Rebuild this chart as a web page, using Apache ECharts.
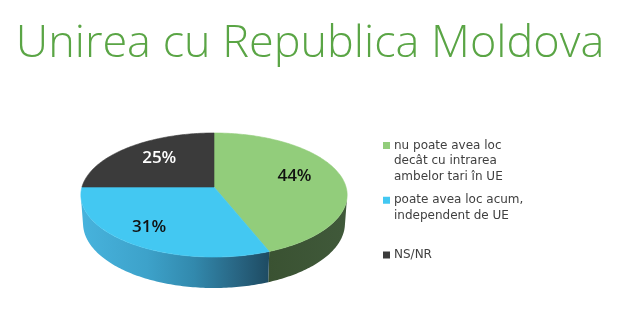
<!DOCTYPE html>
<html>
<head>
<meta charset="utf-8">
<script src="https://cdn.jsdelivr.net/npm/echarts@6/dist/echarts.min.js"></script>
<style>
  html, body { margin: 0; padding: 0; background: #ffffff; }
  #chart { width: 620px; height: 324px; }
</style>
</head>
<body>
<div id="chart"></div>
<script>
// ---- data ----
const titleText = 'Unirea cu Republica Moldova';
const categories = [
  'nu poate avea loc\ndecât cu intrarea\nambelor tari în UE',
  'poate avea loc acum,\nindependent de UE',
  'NS/NR'
];
const shares = [44, 31, 25];

// ---- styling ----
const topColors = ['#92CD7B', '#43C8F2', '#3B3B3B'];
const wallStops = [
  [[0, '#3A5232'], [1, '#40593A']],
  [[0, '#47B3DD'], [0.35, '#3DA2CA'], [0.6, '#3289AD'], [0.85, '#27627F'], [1, '#1E4B62']],
  [[0, '#2A2A2A'], [1, '#2A2A2A']]
];
const labelColors = ['#111111', '#111111', '#ffffff'];
const labelRadius = [0.63, 0.8, 0.62];

// perspective camera looking down on a thin disc of radius 1
const cam = { cx: 214, cy: 187, focal: 907, dist: 6.87, sinT: 0.462, cosT: 0.887, thick: 0.2445 };

function project(u, v, h) {
  // u: right, v: toward the viewer, h: downward thickness
  const d = cam.dist - v * cam.cosT + h * cam.sinT;
  return [cam.cx + cam.focal * u / d, cam.cy + cam.focal * (v * cam.sinT + h * cam.cosT) / d];
}
function rim(deg, r, h) {
  // deg measured clockwise from 12 o'clock
  const a = deg * Math.PI / 180;
  return project(r * Math.sin(a), -r * Math.cos(a), h);
}
function arc(from, to, r, h) {
  const pts = [];
  const n = Math.max(2, Math.ceil(Math.abs(to - from)));
  for (let k = 0; k <= n; k++) pts.push(rim(from + (to - from) * k / n, r, h));
  return pts;
}

const total = shares.reduce((s, v) => s + v, 0);
const starts = [];
shares.reduce((acc, v, i) => { starts[i] = acc / total * 360; return acc + v; }, 0);

// outer wall faces the camera only where v exceeds 1 / (camera height along the view)
const vMin = 1 / (cam.dist * cam.cosT);
const wallFrom = Math.acos(-vMin) * 180 / Math.PI;
const wallTo = 360 - wallFrom;

function renderSlice(params, api) {
  const i = params.dataIndex;
  const value = api.value(0);
  const s = starts[i];
  const e = s + value / total * 360;
  const children = [];

  const a = Math.max(s, wallFrom), b = Math.min(e, wallTo);
  if (b > a) {
    const pts = arc(a, b, 1, 0).concat(arc(b, a, 1, cam.thick));
    children.push({
      type: 'polygon', z2: 1,
      shape: { points: pts },
      style: {
        fill: new echarts.graphic.LinearGradient(0, 0, 1, 0,
          wallStops[i].map(st => ({ offset: st[0], color: st[1] })))
      }
    });
  }

  const topPts = [project(0, 0, 0)].concat(arc(s, e, 1, 0));
  children.push({
    type: 'polygon', z2: 5,
    shape: { points: topPts },
    style: { fill: topColors[i], stroke: topColors[i], lineWidth: 0.6 }
  });

  const mid = (s + e) / 2;
  const lp = rim(mid, labelRadius[i], 0);
  children.push({
    type: 'text', z2: 10,
    x: lp[0], y: lp[1] - 4,
    style: {
      text: Math.round(value / total * 100) + '%',
      fill: labelColors[i],
      font: '600 17px "Open Sans"',
      align: 'center', verticalAlign: 'middle'
    }
  });
  return { type: 'group', children };
}

// legend blocks: swatch beside the first line of each multi-line name
const legendX = 383, legendFirstCenter = 161, legendStep = 47, legendLine = 15.5;
const legendGraphics = [];
categories.forEach((name, i) => {
  const lines = name.split('\n').length;
  const top = legendFirstCenter + i * legendStep - lines * legendLine / 2;
  legendGraphics.push({
    type: 'rect',
    shape: { x: legendX, y: top + legendLine / 2 - 3.5, width: 7, height: 7 },
    style: { fill: topColors[i] }
  });
  legendGraphics.push({
    type: 'text',
    x: legendX + 11, y: top,
    style: {
      text: name, fill: '#404040',
      font: '12px "DejaVu Sans"', lineHeight: legendLine,
      verticalAlign: 'top'
    }
  });
});

const chart = echarts.init(document.getElementById('chart'), null, { renderer: 'canvas' });
chart.setOption({
  backgroundColor: '#ffffff',
  animation: false,
  title: {
    text: titleText,
    left: 'center',
    top: 17,
    textStyle: { color: '#5AA545', fontSize: 45, fontWeight: 300, fontFamily: '"Open Sans"' }
  },
  graphic: legendGraphics,
  series: [{
    type: 'custom',
    coordinateSystem: 'none',
    renderItem: renderSlice,
    data: shares.map((v, i) => ({ name: categories[i], value: [v] }))
  }]
});
</script>
</body>
</html>
